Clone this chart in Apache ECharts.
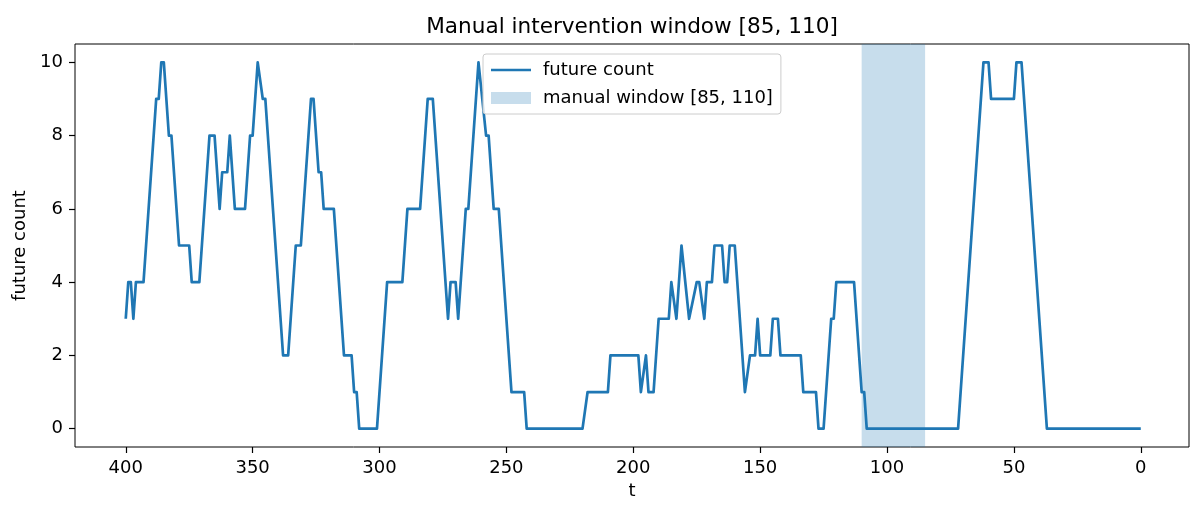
<!DOCTYPE html>
<html>
<head>
<meta charset="utf-8">
<script src="https://cdn.jsdelivr.net/npm/echarts@6/dist/echarts.min.js"></script>
<style>
  html, body { margin: 0; padding: 0; background: #fff; }
  #chart { width: 1190px; height: 505px; }
</style>
</head>
<body>
<div id="chart"></div>
<script>
// Vertices of the "future count" line (t, count)
const tValues = [400,399,398,397,396,393,388,387,386,385,383,382,379,375,374,371,367,365,363,362,360,359,357,353,351,350,348,346,345,338,336,333,331,327,326,324,323,322,318,314,311,310,309,308,301,297,291,289,284,281,279,273,272,270,269,266,265,261,258,257,255,253,248,243,242,220,218,210,209,198,197,195,194,192,190,186,185,183,181,178,175,174,172,171,169,168,165,164,163,162,160,156,154,152,151,150,146,145,143,142,134,133,128,127,125,122,121,120,113,110,109,108,72,62,60,59,50,49,47,37,0];
const counts  = [3,4,4,3,4,4,9,9,10,10,8,8,5,5,4,4,8,8,6,7,7,8,6,6,8,8,10,9,9,2,2,5,5,9,9,7,7,6,6,2,2,1,1,0,0,4,4,6,6,9,9,3,4,4,3,6,6,10,8,8,6,6,1,1,0,0,1,1,2,2,1,2,1,1,3,3,4,3,5,3,4,4,3,4,4,5,5,4,4,5,5,1,2,2,3,2,2,3,3,2,2,1,1,0,0,3,3,4,4,1,1,0,0,10,10,9,9,10,10,0,0];
const windowRange = [110, 85];
const xTicks = [0, 50, 100, 150, 200, 250, 300, 350, 400];
const yTicks = [0, 2, 4, 6, 8, 10];
const titleText = 'Manual intervention window [85, 110]';
const lineName = 'future count';
const windowName = 'manual window [85, 110]';

const lineData = tValues.map((t, i) => [t, counts[i]]);
const FONT = 'DejaVu Sans';
const FS = 18;

const chart = echarts.init(document.getElementById('chart'), null, { renderer: 'canvas' });
chart.setOption({
  animation: false,
  backgroundColor: '#fff',
  title: {
    text: titleText,
    left: 632,
    top: 16,
    padding: 0,
    textAlign: 'center',
    textStyle: { fontFamily: FONT, fontSize: 21.6, fontWeight: 'normal', color: '#000' }
  },
  legend: {
    orient: 'vertical',
    left: 483,
    top: 54,
    padding: [7, 8, 7, 8],
    itemWidth: 40,
    itemHeight: 12,
    itemGap: 10,
    symbolKeepAspect: true,
    backgroundColor: 'rgba(255,255,255,0.8)',
    borderColor: '#cccccc',
    borderWidth: 1,
    borderRadius: 3,
    selectedMode: false,
    textStyle: { fontFamily: FONT, fontSize: FS, color: '#000', padding: [0, 0, 0, 7] },
    data: [
      { name: lineName, icon: 'path://M0,0 L40,0 L40,2.7 L0,2.7 Z', itemStyle: { color: '#1f77b4' } },
      { name: windowName, icon: 'rect', itemStyle: { color: '#c7ddec' } }
    ]
  },
  grid: {
    left: 75, right: 1, top: 44, bottom: 57,
    show: true, borderColor: '#000', borderWidth: 1, backgroundColor: 'transparent'
  },
  xAxis: {
    type: 'value',
    inverse: true,
    min: -19,
    max: 420,
    name: 't',
    nameLocation: 'middle',
    nameGap: 35,
    nameTextStyle: { fontFamily: FONT, fontSize: FS, color: '#000' },
    axisLine: { show: false, onZero: false },
    axisTick: { show: true, length: 6, lineStyle: { color: '#000', width: 1.2 }, customValues: xTicks },
    axisLabel: { fontFamily: FONT, fontSize: FS, color: '#000', margin: 12, customValues: xTicks },
    splitLine: { show: false }
  },
  yAxis: {
    type: 'value',
    min: -0.5,
    max: 10.5,
    name: 'future count',
    nameLocation: 'middle',
    nameGap: 43,
    nameTextStyle: { fontFamily: FONT, fontSize: FS, color: '#000' },
    axisLine: { show: false, onZero: false },
    axisTick: { show: true, length: 6, lineStyle: { color: '#000', width: 1.2 }, customValues: yTicks },
    axisLabel: { fontFamily: FONT, fontSize: FS, color: '#000', margin: 12, customValues: yTicks },
    splitLine: { show: false }
  },
  series: [
    {
      name: windowName,
      type: 'line',
      data: [],
      z: 1,
      itemStyle: { color: '#c7ddec' },
      markArea: {
        silent: true,
        itemStyle: { color: 'rgba(31,119,180,0.25)' },
        data: [[{ xAxis: windowRange[0] }, { xAxis: windowRange[1] }]]
      }
    },
    {
      name: lineName,
      type: 'line',
      data: lineData,
      symbol: 'none',
      z: 3,
      itemStyle: { color: '#1f77b4' },
      lineStyle: { color: '#1f77b4', width: 2.7, join: 'round', cap: 'butt' }
    }
  ]
});
</script>
</body>
</html>
